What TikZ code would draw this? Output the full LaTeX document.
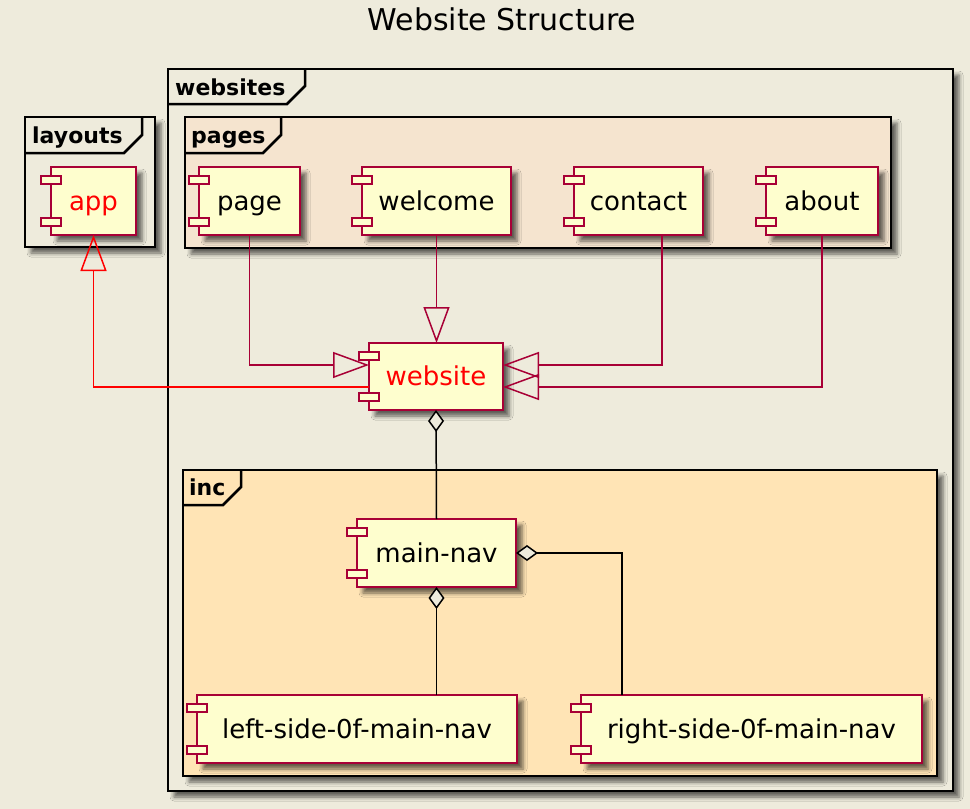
\documentclass[tikz,border=0pt]{standalone}
\usepackage{fontspec}
\setmainfont{DejaVu Sans}
\usetikzlibrary{arrows.meta,shadows.blur}
\definecolor{bgcol}{HTML}{EEEBDC}
\definecolor{pagesfill}{HTML}{F5E4CF}
\definecolor{incfill}{HTML}{FFE4B5}
\definecolor{compfill}{HTML}{FEFECE}
\definecolor{crim}{HTML}{A80036}
\begin{document}
\begin{tikzpicture}[x=1pt,y=-1pt,
	shadowed/.style={blur shadow={shadow xshift=6pt,shadow yshift=-6pt,shadow blur radius=4pt,shadow opacity=60}},
	frame/.style={draw=black,line width=2.5pt,shadowed},
	tabline/.style={draw=black,line width=2.5pt},
	tab/.style={anchor=base west,inner sep=0pt,font=\fontsize{22}{26}\selectfont\bfseries},
	comp/.style={draw=crim,fill=compfill,line width=2pt,minimum height=68pt,inner sep=0pt,outer sep=0pt,text height=20pt,text depth=2pt,font=\fontsize{26}{30}\selectfont,shadowed},
	portbox/.style={draw=crim,fill=compfill,line width=2pt},
	gen/.style={draw=crim,line width=1.5pt,-{Triangle[open,length=36pt,width=26pt]}},
	agg/.style={draw=black,line width=1.5pt,{Diamond[fill=bgcol,length=22pt,width=16pt]}-}]
		\fill[bgcol] (0,0) rectangle (970,809);
		\useasboundingbox (0,0) rectangle (970,809);
		\node[anchor=base,font=\fontsize{30}{36}\selectfont] (title) at (502,30) {Website Structure};
		\draw[frame,fill=bgcol] (168,69) rectangle (953,791);
		\draw[tabline] (168,104) -- (287,104) -- (305,86) -- (305,69);
		\node[tab] (websitesl) at (175,95) {websites};
		\draw[frame,fill=pagesfill] (185,117) rectangle (891,248);
		\draw[tabline] (185,153) -- (263,153) -- (281,135) -- (281,117);
		\node[tab] (pagesl) at (191,143) {pages};
		\draw[frame,fill=bgcol] (25,117) rectangle (155,247);
		\draw[tabline] (25,153) -- (124,153) -- (142,135) -- (142,117);
		\node[tab] (layoutsl) at (32,143) {layouts};
		\draw[frame,fill=incfill] (183,470) rectangle (937,776);
		\draw[tabline] (183,505) -- (223,505) -- (241,487) -- (241,470);
		\node[tab] (incl) at (189,495) {inc};
		\node[comp,minimum width=85pt,text=red] (app) at (93.5,201) {app};
		\node[comp,minimum width=101pt] (page) at (249.5,201) {page};
		\node[comp,minimum width=149pt] (welcome) at (436.5,201) {welcome};
		\node[comp,minimum width=129pt] (contact) at (638.5,201) {contact};
		\node[comp,minimum width=112pt] (about) at (822,201) {about};
		\node[comp,minimum width=134pt,minimum height=67pt,text=red] (website) at (436,376.5) {website};
		\node[comp,minimum width=159pt] (mainnav) at (436.5,553) {main-nav};
		\node[comp,minimum width=320pt] (leftnav) at (357,729) {left-side-0f-main-nav};
		\node[comp,minimum width=341pt] (rightnav) at (751.5,729) {right-side-0f-main-nav};
		\foreach \n in {app,page,welcome,contact,about,website,mainnav,leftnav,rightnav}{
			\draw[portbox] ([xshift=-10pt,yshift=-9pt]\n.north west) rectangle ([xshift=10pt,yshift=-17pt]\n.north west);
			\draw[portbox] ([xshift=-10pt,yshift=9pt]\n.south west) rectangle ([xshift=10pt,yshift=17pt]\n.south west);
		}
		\draw[gen] (page.south) |- ([yshift=11.5pt]website.west);
		\draw[gen] (welcome.south) -- (welcome.south |- website.north);
		\draw[gen] ([xshift=23.5pt]contact.south) |- ([yshift=11.5pt]website.east);
		\draw[gen] (about.south) |- ([yshift=-10.5pt]website.east);
		\draw[gen,draw=red] ([yshift=-10.5pt]website.west) -| (app.south);
		\draw[agg] (website.south) -- (mainnav.north);
		\draw[agg] (mainnav.south) -- (mainnav.south |- leftnav.north);
		\draw[agg] (mainnav.east) -| ([xshift=-129.5pt]rightnav.north);
\end{tikzpicture}
\end{document}
